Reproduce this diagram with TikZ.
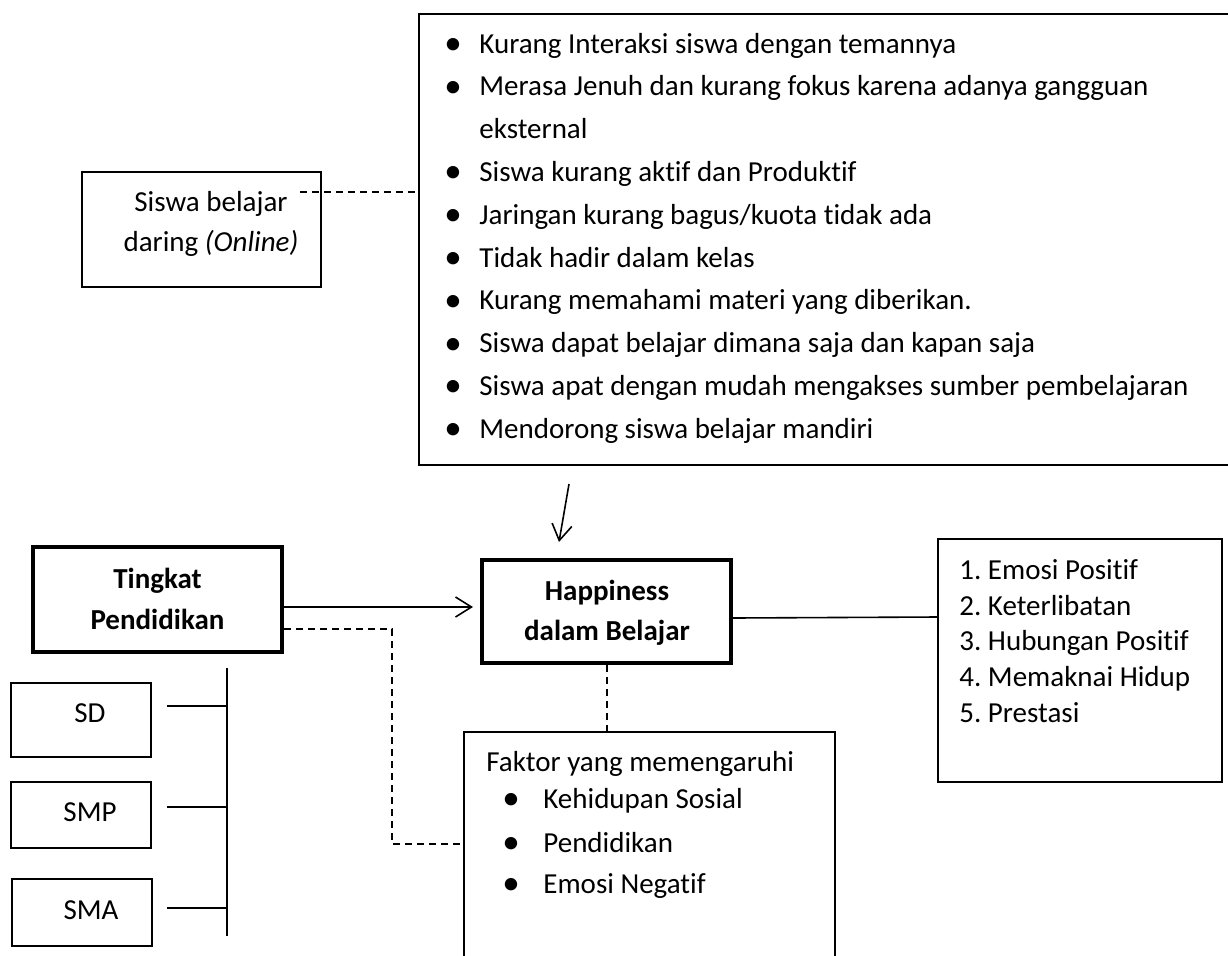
\documentclass[tikz,border=0pt]{standalone}
\usepackage{fontspec}
\setmainfont{Carlito}[Ligatures={NoCommon}]
\usetikzlibrary{arrows.meta}
\frenchspacing
\newcommand{\blt}{{\fontsize{17.5}{17.5}\selectfont\char"2022}}
\tikzset{
  txt/.style={inner sep=0pt, font=\fontsize{14.5}{17}\selectfont},
  btxt/.style={inner sep=0pt, font=\fontsize{14.5}{17}\selectfont\bfseries},
  bul/.style={inner sep=0pt, anchor=center},
  thinbox/.style={draw, line width=0.8pt, inner sep=0pt},
  thickbox/.style={draw, line width=2pt, inner sep=0pt},
  listbox/.style={draw, line width=1.2pt, inner sep=0pt},
  conn/.style={line width=0.8pt},
  dashconn/.style={line width=0.8pt, dash pattern=on 3.5pt off 2.5pt},
  openarrow/.style={line width=0.8pt, -{Straight Barb[length=8pt,width=10pt,line width=0.8pt]}}
}
\begin{document}
\begin{tikzpicture}[x=0.5pt,y=-0.5pt]
\useasboundingbox (0,0) rectangle (1228,955);
\clip (0,0) rectangle (1228,955);

% boxes
\node[thinbox, minimum width=119.5pt, minimum height=57.5pt] (siswa) at (201.5,229.5) {};
\node[listbox, minimum width=410.5pt, minimum height=225.5pt] (list) at (829.5,239.5) {};
\node[thickbox, minimum width=124.5pt, minimum height=52.5pt] (tingkat) at (157.5,599.5) {};
\node[thickbox, minimum width=124.5pt, minimum height=51.5pt] (happy) at (606.5,611.5) {};
\node[thinbox, minimum width=185.5pt, minimum height=134pt] (faktor) at (649.5,866) {};
\node[thinbox, minimum width=142pt, minimum height=121.5pt] (dim) at (1080,660.5) {};
\node[thinbox, minimum width=70pt, minimum height=37pt] (sd) at (81,720) {};
\node[thinbox, minimum width=70pt, minimum height=33pt] (smp) at (81,815) {};
\node[thinbox, minimum width=70pt, minimum height=33.5pt] (sma) at (82,912.5) {};

% texts: siswa
\node[txt, anchor=base] (siswa1) at (211,211) {Siswa belajar};
\node[txt, anchor=base] (siswa2) at (211,251) {daring \textit{(Online)}};

% list texts
\node[bul] (b1) at (453,46.5) {\blt};
\node[txt, anchor=base west] (l1) at (479,53) {Kurang Interaksi siswa dengan temannya};
\node[bul] (b2) at (453,89.3) {\blt};
\node[txt, anchor=base west] (l2) at (479,95.8) {Merasa Jenuh dan kurang fokus karena adanya gangguan};
\node[txt, anchor=base west] (l3) at (479,138.6) {eksternal};
\node[bul] (b4) at (453,174.9) {\blt};
\node[txt, anchor=base west] (l4) at (479,181.4) {Siswa kurang aktif dan Produktif};
\node[bul] (b5) at (453,217.7) {\blt};
\node[txt, anchor=base west] (l5) at (479,224.2) {Jaringan kurang bagus/kuota tidak ada};
\node[bul] (b6) at (453,260.5) {\blt};
\node[txt, anchor=base west] (l6) at (479,267) {Tidak hadir dalam kelas};
\node[bul] (b7) at (453,303.3) {\blt};
\node[txt, anchor=base west] (l7) at (479,309.8) {Kurang memahami materi yang diberikan.};
\node[bul] (b8) at (453,346.1) {\blt};
\node[txt, anchor=base west] (l8) at (479,352.6) {Siswa dapat belajar dimana saja dan kapan saja};
\node[bul] (b9) at (453,388.9) {\blt};
\node[txt, anchor=base west] (l9) at (479,395.4) {Siswa apat dengan mudah mengakses sumber pembelajaran};
\node[bul] (b10) at (453,431.7) {\blt};
\node[txt, anchor=base west] (l10) at (479,438.2) {Mendorong siswa belajar mandiri};

% tingkat / happiness
\node[btxt, anchor=base] (t1) at (157.5,588) {Tingkat};
\node[btxt, anchor=base] (t2) at (157.5,629) {Pendidikan};
\node[btxt, anchor=base] (h1) at (607,600) {Happiness};
\node[btxt, anchor=base] (h2) at (607,640) {dalam Belajar};

% faktor
\node[txt, anchor=base west] (f0) at (486,771) {Faktor yang memengaruhi};
\node[bul] (fb1) at (511,801.5) {\blt};
\node[txt, anchor=base west] (f1) at (543,808) {Kehidupan Sosial};
\node[bul] (fb2) at (511,845.5) {\blt};
\node[txt, anchor=base west] (f2) at (543,852) {Pendidikan};
\node[bul] (fb3) at (511,886.5) {\blt};
\node[txt, anchor=base west] (f3) at (543,893) {Emosi Negatif};

% dimensions
\node[txt, anchor=base west] (d1) at (959,579) {1. Emosi Positif};
\node[txt, anchor=base west] (d2) at (959,615) {2. Keterlibatan};
\node[txt, anchor=base west] (d3) at (959,650) {3. Hubungan Positif};
\node[txt, anchor=base west] (d4) at (959,686) {4. Memaknai Hidup};
\node[txt, anchor=base west] (d5) at (959,722) {5. Prestasi};

% levels
\node[txt, anchor=base] (sdt) at (90,722) {SD};
\node[txt, anchor=base] (smpt) at (90,821) {SMP};
\node[txt, anchor=base] (smat) at (91,919) {SMA};

% connectors
\coordinate (sw) at (300,192);
\draw[dashconn] (sw) -- (list.west |- sw);

\coordinate (aS) at (569,484);
\coordinate (aE) at (559,542);
\draw[openarrow] (aS) -- (aE);

\draw[openarrow] (tingkat.east |- 0,607) -- ([xshift=-3.5pt]happy.west |- 0,607);

\coordinate (dc) at (392,629);
\draw[dashconn] (tingkat.east |- dc) -- (dc) |- (faktor.west |- 0,844);

\draw[dashconn] (happy.south -| 607,0) -- (faktor.north -| 607,0);

\draw[conn] (happy.east |- 0,618) -- (dim.west |- 0,617);

\coordinate (bt) at (227,668);
\coordinate (bb) at (227,936);
\draw[conn] (bt) -- (bb);
\coordinate (sdc) at (167,706);
\coordinate (smpc) at (167,807);
\coordinate (smac) at (167,908);
\draw[conn] (sdc) -- (sdc -| bt);
\draw[conn] (smpc) -- (smpc -| bt);
\draw[conn] (smac) -- (smac -| bt);
\end{tikzpicture}
\end{document}
